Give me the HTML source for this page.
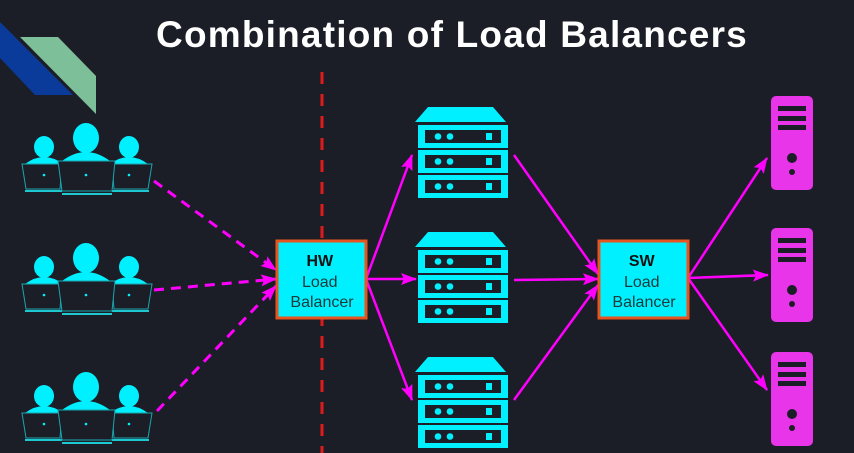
<!DOCTYPE html>
<html><head><meta charset="utf-8"><style>
html,body{margin:0;padding:0;background:#1c1e27;}
svg{display:block}
</style></head><body>
<svg width="854" height="453" viewBox="0 0 854 453" xmlns="http://www.w3.org/2000/svg">
<defs>
<marker id="ah" viewBox="0 0 16 12" refX="15" refY="6" markerWidth="16" markerHeight="12" orient="auto" markerUnits="userSpaceOnUse">
<path d="M0,0 L16,6 L0,12 L3,6 Z" fill="#ff00ff"/>
</marker>
<g id="users">
<path d="M25,26 Q44,12 63,26 Z" fill="#00f0ff"/>
<path d="M110,26 Q129,12 148,26 Z" fill="#00f0ff"/>
<ellipse cx="44" cy="9" rx="10" ry="11" fill="#00f0ff"/>
<ellipse cx="129" cy="9" rx="10" ry="11" fill="#00f0ff"/>
<polygon points="22,26 62,26 60,51 26,51" fill="#1c1e27" stroke="#1aa5ad" stroke-width="1"/>
<polygon points="112,26 152,26 148,51 114,51" fill="#1c1e27" stroke="#1aa5ad" stroke-width="1"/>
<line x1="25" y1="53" x2="62" y2="53" stroke="#1ec8d0" stroke-width="2"/>
<line x1="112" y1="53" x2="149" y2="53" stroke="#1ec8d0" stroke-width="2"/>
<ellipse cx="86" cy="0" rx="13" ry="15" fill="#00f0ff"/>
<path d="M62,23 Q86,5 110,23 Z" fill="#00f0ff"/>
<polygon points="58,23 115,23 112,53 62,53" fill="#1c1e27" stroke="#1aa5ad" stroke-width="1"/>
<line x1="62" y1="56" x2="112" y2="56" stroke="#1ec8d0" stroke-width="2"/>
<circle cx="44" cy="37" r="1.3" fill="#00f0ff"/><circle cx="86" cy="37" r="1.3" fill="#00f0ff"/><circle cx="129" cy="37" r="1.3" fill="#00f0ff"/>
</g>
<g id="rack" fill="#00f0ff">
<polygon points="10,0 75,0 88,15 -3,15"/>
<g id="unit"><rect x="0" y="18" width="90" height="23" fill="#00f0ff"/><rect x="7" y="23" width="76" height="13" fill="#1c1e27"/>
<circle cx="20" cy="29.5" r="3.3"/><circle cx="32" cy="29.5" r="3.3"/><rect x="68" y="26" width="6" height="7"/></g>
<use href="#unit" y="25"/><use href="#unit" y="50"/>
</g>
<g id="tower">
<rect x="0" y="0" width="42" height="94" rx="5" fill="#e935e9"/>
<rect x="7" y="10" width="28" height="5" fill="#1c1e27"/>
<rect x="7" y="20" width="28" height="5" fill="#1c1e27"/>
<rect x="7" y="29" width="28" height="5" fill="#1c1e27"/>
<circle cx="21" cy="62" r="5" fill="#1c1e27"/>
<circle cx="21" cy="76" r="3" fill="#1c1e27"/>
</g>
</defs>
<polygon points="0,22 0,58 35,95 73,95" fill="#0a3a9a"/>
<polygon points="20,37 58,37 96,76 96,114" fill="#7dbf98"/>
<text x="452" y="47" text-anchor="middle" font-family="Liberation Sans, sans-serif" font-weight="bold" font-size="37" letter-spacing="1.2" fill="#ffffff">Combination of Load Balancers</text>
<line x1="322" y1="72" x2="322" y2="453" stroke="#e01b1b" stroke-width="3" stroke-dasharray="12,10"/>
<use href="#users" x="0" y="138"/>
<use href="#users" x="0" y="258"/>
<use href="#users" x="0" y="387"/>
<g stroke="#ff00ff" stroke-width="3" fill="none" stroke-dasharray="10,7">
<line x1="154" y1="181" x2="276" y2="270" marker-end="url(#ah)"/>
<line x1="154" y1="290" x2="276" y2="279" marker-end="url(#ah)"/>
<line x1="157" y1="411" x2="276" y2="286" marker-end="url(#ah)"/>
</g>
<use href="#rack" x="418" y="107"/>
<use href="#rack" x="418" y="232"/>
<use href="#rack" x="418" y="357"/>
<g stroke="#ff00ff" stroke-width="2.5" fill="none">
<line x1="366" y1="279" x2="412" y2="155" marker-end="url(#ah)"/>
<line x1="366" y1="279" x2="416" y2="279" marker-end="url(#ah)"/>
<line x1="366" y1="279" x2="412" y2="400" marker-end="url(#ah)"/>
<line x1="514" y1="155" x2="598" y2="274" marker-end="url(#ah)"/>
<line x1="514" y1="280" x2="598" y2="279" marker-end="url(#ah)"/>
<line x1="514" y1="400" x2="598" y2="285" marker-end="url(#ah)"/>
<line x1="688" y1="278" x2="767" y2="158" marker-end="url(#ah)"/>
<line x1="688" y1="278" x2="768" y2="275" marker-end="url(#ah)"/>
<line x1="688" y1="278" x2="767" y2="390" marker-end="url(#ah)"/>
</g>
<rect x="277" y="241" width="89" height="77" fill="#00f0ff" stroke="#e8541e" stroke-width="3"/>
<text font-family="Liberation Sans, sans-serif" fill="#111" text-anchor="middle">
<tspan x="322" y="266" font-weight="bold" font-size="16">HW</tspan>
<tspan x="322" y="287" font-size="16" fill="#1a3a3a">Load</tspan>
<tspan x="322" y="307" font-size="16" fill="#1a3a3a">Balancer</tspan>
</text>
<rect x="599" y="241" width="89" height="77" fill="#00f0ff" stroke="#e8541e" stroke-width="3"/>
<text font-family="Liberation Sans, sans-serif" fill="#111" text-anchor="middle">
<tspan x="644" y="266" font-weight="bold" font-size="16">SW</tspan>
<tspan x="644" y="287" font-size="16" fill="#1a3a3a">Load</tspan>
<tspan x="644" y="307" font-size="16" fill="#1a3a3a">Balancer</tspan>
</text>
<use href="#tower" x="771" y="96"/>
<use href="#tower" x="771" y="228"/>
<use href="#tower" x="771" y="352"/>
</svg>
</body></html>
